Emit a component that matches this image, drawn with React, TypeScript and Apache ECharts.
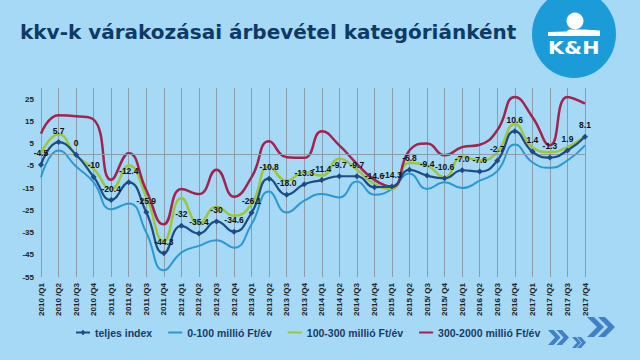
import React, { useEffect, useRef } from "react";
import * as echarts from "echarts";

const categories = [
  "2010 /Q1", "2010 /Q2", "2010 /Q3", "2010 /Q4",
  "2011 /Q1", "2011 /Q2", "2011 /Q3", "2011 /Q4",
  "2012 /Q1", "2012 /Q2", "2012 /Q3", "2012 /Q4",
  "2013 /Q1", "2013 /Q2", "2013 /Q3", "2013 /Q4",
  "2014 /Q1", "2014 /Q2", "2014 /Q3", "2014 /Q4",
  "2015 /Q1", "2015 /Q2", "2015/ Q3", "2015/ Q4",
  "2016 /Q1", "2016 /Q2", "2016 /Q3", "2016 /Q4",
  "2017 /Q1", "2017 /Q2", "2017 /Q3", "2017 /Q4",
];

const teljesIndex = [
  -4.5, 5.7, 0, -10, -20.4, -12.4, -25.9, -44.3,
  -32, -35.4, -30, -34.6, -26.1, -10.8, -18.0, -13.3,
  -11.4, -9.7, -9.7, -14.6, -14.3, -6.8, -9.4, -10.6,
  -7.0, -7.6, -2.7, 10.6, 1.4, -1.3, 1.9, 8.1,
];
const teljesLabels = [
  "-4.5", "5.7", "0", "-10", "-20.4", "-12.4", "-25.9", "-44.3",
  "-32", "-35.4", "-30", "-34.6", "-26.1", "-10.8", "-18.0", "-13.3",
  "-11.4", "-9.7", "-9.7", "-14.6", "-14.3", "-6.8", "-9.4", "-10.6",
  "-7.0", "-7.6", "-2.7", "10.6", "1.4", "-1.3", "1.9", "8.1",
];
const kat0_100 = [
  -10.1, 1.9, -5.3, -12.4, -24.5, -21.9, -35, -52,
  -44, -41, -38.5, -41.8, -31.3, -16.6, -26, -20.7,
  -17.7, -19.2, -12, -18, -15.4, -8.5, -15.4, -12.4,
  -15, -11.7, -7.4, 4.6, -3.4, -5.9, -2.6, 4.2,
];
const kat100_300 = [
  0.7, 9.2, -0.3, -6.4, -15.4, -4.9, -19, -38.8,
  -19.5, -31, -23.4, -27.5, -22.2, -5.3, -11.7, -7.9,
  -9.4, -1.8, -6.8, -13.1, -15.4, -3.6, -4.9, -10.1,
  -0.8, -2.6, 1.2, 13.7, 3.4, 1.2, 3.4, 8.3,
];
const kat300_2000 = [
  9.5, 17.8, 17.3, 15.8, -11.3, 0.7, -16, -31.3,
  -15.4, -17.7, -6.8, -18.9, -10.1, 6, -1.1, -1.4,
  10.5, 4.2, -4.1, -11.3, -14.4, 2, 5, -0.3,
  3.4, 4.5, 11, 26, 17, 4.2, 26, 23,
];

const seriesNames = [
  "teljes index",
  "0-100 millió Ft/év",
  "100-300 millió Ft/év",
  "300-2000 millió Ft/év",
];

const yMin = -55;
const yMax = 30;
const yStep = 10;

const lineIcon = "path://M0,0ZM0,3.1L14,3.1L14,4.9L0,4.9ZM14,8Z";
const markerIcon = "path://M0,0ZM0,3.1L14,3.1L14,4.9L0,4.9ZM7,1.3L9.7,4L7,6.7L4.3,4ZM14,8Z";

function chevron(x0: number, cy: number, h: number, tip: number, t: number, color: string) {
  return {
    type: "polygon",
    shape: {
      points: [
        [x0, cy - h / 2],
        [x0 + t, cy - h / 2],
        [x0 + t + tip, cy],
        [x0 + t, cy + h / 2],
        [x0, cy + h / 2],
        [x0 + tip, cy],
      ],
    },
    style: { fill: color },
  };
}

export default function App() {
  const ref = useRef<HTMLDivElement>(null);
  useEffect(() => {
    if (!ref.current) return;
    const chart = echarts.init(ref.current, null, { renderer: "svg" });
    const gridColor = "#8c9cab";
    const chevColor = "#3f80c6";
    chart.setOption({
      animation: false,
      backgroundColor: "#a5d9f6",
      textStyle: { fontFamily: "Liberation Sans" },
      grid: { left: 41, right: 55, top: 88, bottom: 83, containLabel: false },
      xAxis: {
        type: "category",
        data: categories,
        boundaryGap: false,
        axisLine: { show: false, onZero: false },
        axisTick: { show: false },
        splitLine: { show: true, lineStyle: { color: gridColor, width: 1 } },
        axisLabel: {
          rotate: 90,
          interval: 0,
          fontSize: 8,
          fontWeight: "bold",
          color: "#222",
          margin: 6,
          fontFamily: "Liberation Sans",
        },
      },
      yAxis: {
        type: "value",
        min: yMin,
        max: yMax,
        interval: yStep,
        axisLine: { show: false },
        axisTick: { show: false },
        splitLine: { show: false },
        axisLabel: {
          showMaxLabel: false,
          fontSize: 8,
          fontWeight: "bold",
          color: "#222",
          margin: 7,
          fontFamily: "Liberation Sans",
        },
      },
      legend: {
        left: 76,
        top: 327,
        padding: 0,
        itemGap: 16,
        itemWidth: 14,
        itemHeight: 8,
        data: [
          { name: seriesNames[0], icon: markerIcon },
          { name: seriesNames[1], icon: lineIcon },
          { name: seriesNames[2], icon: lineIcon },
          { name: seriesNames[3], icon: lineIcon },
        ],
        textStyle: {
          fontSize: 10.5,
          fontWeight: "bold",
          color: "#1b3a66",
          fontFamily: "Liberation Sans",
        },
      },
      series: [
        {
          name: seriesNames[1],
          type: "line",
          data: kat0_100,
          smooth: 0.5,
          symbol: "none",
          lineStyle: { color: "#2a98d2", width: 2 },
          itemStyle: { color: "#2a98d2" },
          z: 2,
          markLine: {
            silent: true,
            symbol: "none",
            label: { show: false },
            lineStyle: { color: gridColor, width: 1, type: "solid" },
            data: [{ yAxis: 0 }],
          },
        },
        {
          name: seriesNames[2],
          type: "line",
          data: kat100_300,
          smooth: 0.5,
          symbol: "none",
          lineStyle: { color: "#9cc63b", width: 2.5 },
          itemStyle: { color: "#9cc63b" },
          z: 3,
        },
        {
          name: seriesNames[3],
          type: "line",
          data: kat300_2000,
          smooth: 0.5,
          symbol: "none",
          lineStyle: { color: "#a3234f", width: 2.5 },
          itemStyle: { color: "#a3234f" },
          z: 4,
        },
        {
          name: seriesNames[0],
          type: "line",
          data: teljesIndex,
          smooth: 0.5,
          symbol: "diamond",
          symbolSize: 6,
          lineStyle: { color: "#1d4b86", width: 2.2 },
          itemStyle: { color: "#1d4b86" },
          z: 5,
          label: {
            show: true,
            position: "top",
            distance: 4,
            fontSize: 8.5,
            fontWeight: "bold",
            color: "#111",
            fontFamily: "Liberation Sans",
            formatter: (p: any) => teljesLabels[p.dataIndex],
          },
        },
      ],
      graphic: [
        {
          type: "text",
          left: 20,
          top: 22,
          style: {
            text: "kkv-k várakozásai árbevétel kategóriánként",
            font: "bold 20px 'DejaVu Sans'",
            fill: "#0f3a66",
          },
        },
        {
          type: "ellipse",
          shape: { cx: 574, cy: 34, rx: 42, ry: 44 },
          style: { fill: "#1b9bd7" },
        },
        {
          type: "circle",
          shape: { cx: 575, cy: 21, r: 8.5 },
          style: { fill: "#ffffff" },
        },
        {
          type: "polygon",
          shape: {
            points: [
              [548, 32], [566, 31.5], [569, 29.5], [584, 29.5], [600, 30.5],
              [600, 36], [548, 36],
            ],
          },
          style: { fill: "#ffffff" },
        },
        {
          type: "text",
          x: 548,
          y: 39,
          scaleX: 1.22,
          style: {
            text: "K&H",
            font: "bold 17px 'DejaVu Sans'",
            fill: "#ffffff",
          },
        },
        chevron(587, 327, 20, 10, 7, chevColor),
        chevron(598, 327, 20, 10, 7, chevColor),
        chevron(548, 337.5, 15, 7, 5.5, chevColor),
        chevron(556.5, 337.5, 15, 7, 5.5, chevColor),
        chevron(572, 342.5, 11, 5, 4, chevColor),
        chevron(577, 342.5, 11, 5, 4, chevColor),
      ],
    });
    return () => chart.dispose();
  }, []);
  return <div ref={ref} style={{ width: 640, height: 360, position: "absolute", left: 0, top: 0 }} />;
}
